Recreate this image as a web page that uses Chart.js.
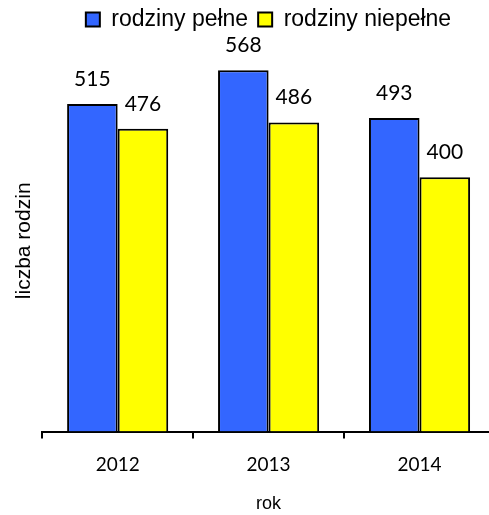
<!DOCTYPE html>
<html>
<head>
<meta charset="utf-8">
<script src="https://cdn.jsdelivr.net/npm/chart.js@4"></script>
<style>
  html, body { margin: 0; padding: 0; overflow: hidden; background: #fff; }
  #wrap { width: 536px; height: 515px; }
</style>
</head>
<body>
<div id="wrap"><canvas id="c"></canvas></div>
<script>
const years = ['2012', '2013', '2014']
const pelne = [515, 568, 493]
const niepelne = [476, 486, 400]

// value labels above bars, like Excel data labels
const barLabels = {
  id: 'barLabels',
  afterDatasetsDraw(chart) {
    const ctx = chart.ctx
    ctx.save()
    ctx.font = '21px Lato, "Liberation Sans", sans-serif'
    ctx.fillStyle = '#000'
    ctx.textAlign = 'center'
    ctx.textBaseline = 'middle'
    chart.data.datasets.forEach((ds, i) => {
      chart.getDatasetMeta(i).data.forEach((bar, j) => {
        ctx.fillText(ds.data[j], bar.x, bar.y - 25)
      })
    })
    ctx.restore()
  }
}

// the plot runs past the right edge, but the legend is centred on the visible page
const legendShift = {
  id: 'legendShift',
  afterLayout(chart) {
    const lg = chart.legend
    lg.left += 21
    lg.right += 21
    lg.top -= 9
    lg.bottom -= 9
  }
}

new Chart(document.getElementById('c'), {
  type: 'bar',
  data: {
    labels: years,
    datasets: [
      { label: 'rodziny pełne', data: pelne, backgroundColor: '#3366ff', borderColor: '#000', borderWidth: 2 },
      { label: 'rodziny niepełne', data: niepelne, backgroundColor: '#ffff00', borderColor: '#000', borderWidth: 2 }
    ]
  },
  options: {
    responsive: true,
    maintainAspectRatio: false,
    animation: false,
    layout: { padding: { left: 0, right: 41, top: 7, bottom: 0 } },
    datasets: { bar: { categoryPercentage: 0.67, barPercentage: 1 } },
    plugins: {
      legend: {
        labels: {
          color: '#000',
          font: { family: '"Liberation Sans", Arial, sans-serif', size: 23 },
          boxWidth: 14,
          boxHeight: 14,
          padding: 10
        }
      },
      tooltip: { enabled: false }
    },
    scales: {
      x: {
        grid: { drawOnChartArea: false, color: '#000', lineWidth: 2, tickLength: 7 },
        border: { color: '#000', width: 2 },
        ticks: { color: '#000', font: { family: 'Lato, "Liberation Sans", sans-serif', size: 19 }, padding: 15 },
        title: { display: true, text: 'rok', color: '#000', font: { family: '"Liberation Sans", Arial, sans-serif', size: 18 }, padding: { top: 2, bottom: 0 } }
      },
      y: {
        min: 0,
        max: 600,
        grid: { display: false },
        border: { display: false },
        ticks: { display: false },
        title: { display: true, text: 'liczba rodzin', color: '#000', font: { family: '"Liberation Sans", Arial, sans-serif', size: 21 }, padding: { top: 12, bottom: -3 } }
      }
    }
  },
  plugins: [barLabels, legendShift]
})
</script>
</body>
</html>
